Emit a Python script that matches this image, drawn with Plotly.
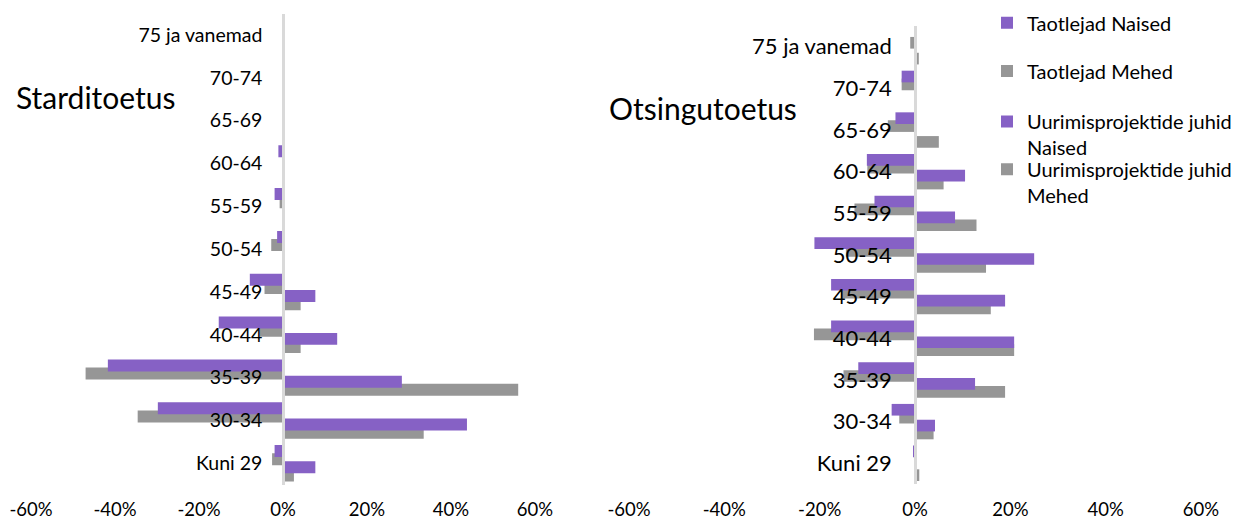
import plotly.graph_objects as go

# ---------------- data ----------------
categories = ["Kuni 29", "30-34", "35-39", "40-44", "45-49", "50-54",
              "55-59", "60-64", "65-69", "70-74", "75 ja vanemad"]
tick_values = [-60, -40, -20, 0, 20, 40, 60]
tick_labels = ["-60%", "-40%", "-20%", "0%", "20%", "40%", "60%"]
series_names = ["Taotlejad Naised", "Taotlejad Mehed",
                "Uurimisprojektide juhid<br>Naised", "Uurimisprojektide juhid<br>Mehed"]
panel_titles = ["Starditoetus", "Otsingutoetus"]

# Starditoetus (values in %, applicants shown as negative)
start_taotlejad_naised = [-2.0, -29.8, -41.7, -15.3, -7.9, -1.4, -2.0, -1.1, 0, 0, 0]
start_taotlejad_mehed = [-2.6, -34.6, -47.0, -5.5, -4.4, -2.8, -0.8, 0, 0, 0, 0]
start_juhid_naised = [7.7, 43.8, 28.3, 12.9, 7.7, 0, 0, 0, 0, 0, 0]
start_juhid_mehed = [2.6, 33.5, 56.0, 4.2, 4.2, 0, 0, 0, 0, 0, 0]

# Otsingutoetus
search_taotlejad_naised = [-0.4, -4.9, -11.9, -17.6, -17.6, -21.1, -8.5, -10.1, -4.1, -2.8, 0]
search_taotlejad_mehed = [0, -3.3, -15.0, -21.2, -15.5, -14.5, -12.7, -10.0, -5.7, -2.8, -1.0]
search_juhid_naised = [0, 4.2, 12.6, 20.8, 18.9, 25.0, 8.4, 10.5, 0, 0, 0]
search_juhid_mehed = [0.9, 3.9, 18.9, 20.8, 15.9, 14.9, 12.9, 6.0, 5.0, 0, 0.8]

# ---------------- style ----------------
W, H = 1238, 521
FONT = "Lato"
PURPLE = "#8661c5"
GRAY = "#969696"
AXIS_GRAY = "#d9d9d9"
BAR_W = 0.28
# bar offsets (start of bar relative to category centre, up = positive)
OFFSETS = {"tn": 0.145, "tm": -0.045, "jn": -0.235, "jm": -0.425}

left_x = [31 / W, 535 / W]
right_x = [629 / W, 1201 / W]
left_y = [(H - 484.7) / H, (H - 13.6) / H]
right_y = [(H - 484.1) / H, (H - 25.9) / H]

fig = go.Figure()

panels = [
    ("x", "y", start_taotlejad_naised, start_taotlejad_mehed,
     start_juhid_naised, start_juhid_mehed, True),
    ("x2", "y2", search_taotlejad_naised, search_taotlejad_mehed,
     search_juhid_naised, search_juhid_mehed, False),
]

for xa, ya, tn, tm, jn, jm, show in panels:
    specs = [
        ("tm", tm, GRAY, series_names[1], "legend2"),
        ("jm", jm, GRAY, series_names[3], "legend4"),
        ("tn", tn, PURPLE, series_names[0], "legend"),
        ("jn", jn, PURPLE, series_names[2], "legend3"),
    ]
    for key, vals, col, name, leg in specs:
        fig.add_trace(go.Bar(
            x=vals, y=categories, orientation="h",
            xaxis=xa, yaxis=ya,
            name=name, legend=leg, showlegend=show,
            marker=dict(color=col, line=dict(width=0)),
            width=BAR_W, offset=OFFSETS[key],
            hoverinfo="x+y",
        ))

xaxis_common = dict(
    range=[-60, 60], tickvals=tick_values, ticktext=tick_labels,
    showgrid=False, zeroline=False, showline=False, ticks="",
    ticklabelstandoff=12,
    tickfont=dict(family=FONT, size=18.5, color="#000"),
    fixedrange=True,
)
yaxis_common = dict(
    type="category", categoryorder="array", categoryarray=categories,
    range=[-0.5, len(categories) - 0.5],
    showgrid=False, zeroline=False, showline=True,
    linecolor=AXIS_GRAY, linewidth=2.5, ticks="",
    anchor="free", layer="above traces",
    fixedrange=True,
)

fig.update_layout(
    width=W, height=H,
    margin=dict(l=0, r=0, t=0, b=0, autoexpand=False),
    paper_bgcolor="white", plot_bgcolor="rgba(0,0,0,0)",
    barmode="overlay",
    font=dict(family=FONT, color="#000"),
    xaxis=dict(domain=left_x, anchor="y", **xaxis_common),
    xaxis2=dict(domain=right_x, anchor="y2", **xaxis_common),
    yaxis=dict(domain=left_y, position=(left_x[0] + left_x[1]) / 2,
               ticklabelstandoff=16,
               tickfont=dict(family=FONT, size=19.5, color="#000"), **yaxis_common),
    yaxis2=dict(domain=right_y, position=(right_x[0] + right_x[1]) / 2,
                ticklabelstandoff=18,
                tickfont=dict(family=FONT, size=22, color="#000"), **yaxis_common),
)

legend_common = dict(
    xanchor="left", yanchor="middle", bgcolor="rgba(0,0,0,0)",
    font=dict(family=FONT, size=20, color="#000"), valign="top",
    itemwidth=30, tracegroupgap=0, borderwidth=0,
)
legend_centres = [22.7, 71.0, 134.5, 182.2]
LEG_X = 987 / W
fig.update_layout(
    legend=dict(x=LEG_X, y=1 - legend_centres[0] / H, **legend_common),
    legend2=dict(x=LEG_X, y=1 - legend_centres[1] / H, **legend_common),
    legend3=dict(x=LEG_X, y=1 - legend_centres[2] / H, **legend_common),
    legend4=dict(x=LEG_X, y=1 - legend_centres[3] / H, **legend_common),
)

fig.add_annotation(text=panel_titles[0], xref="paper", yref="paper",
                   x=14 / W, y=1 - 97 / H, xanchor="left", yanchor="middle",
                   showarrow=False, font=dict(family=FONT, size=30, color="#000"))
fig.add_annotation(text=panel_titles[1], xref="paper", yref="paper",
                   x=607 / W, y=1 - 108 / H, xanchor="left", yanchor="middle",
                   showarrow=False, font=dict(family=FONT, size=30, color="#000"))

fig.write_html(
    "out.html",
    config={"displayModeBar": False},
    post_script="document.body.style.margin='0';document.body.style.overflow='hidden';",
)
